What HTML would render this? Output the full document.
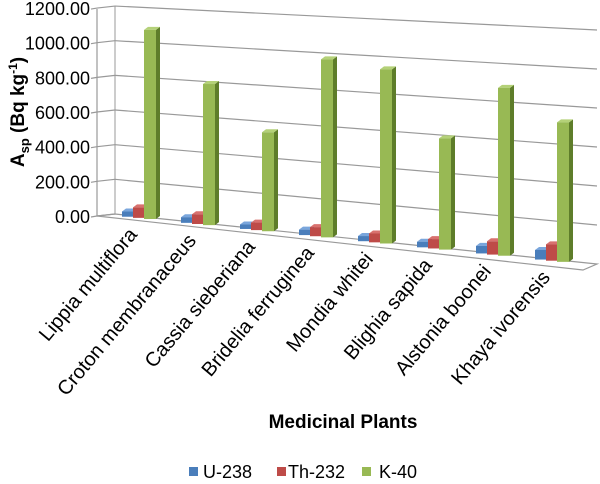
<!DOCTYPE html>
<html><head><meta charset="utf-8"><style>
body{margin:0;background:#fff}
svg{display:block;font-family:"Liberation Sans",Arial,sans-serif}
</style></head><body>
<svg id="chart" width="600" height="484" viewBox="0 0 600 484">
<g id="walls"></g>
<g id="grid"></g>
<g id="ylabels"></g>
<g id="bars"></g>
<g id="xlabels"></g>
<text x="0" y="0" transform="translate(24,112) rotate(-90)" text-anchor="middle" font-size="19" font-weight="bold">A<tspan font-size="13" dy="5">sp</tspan><tspan dy="-5"> (Bq kg</tspan><tspan font-size="12" dy="-7">-1</tspan><tspan dy="7">)</tspan></text>
<text x="343" y="428" text-anchor="middle" font-size="19" font-weight="bold">Medicinal Plants</text>
<g>
<rect x="189" y="467" width="9" height="9" fill="#4a7ebb"/>
<text x="203" y="478" font-size="18">U-238</text>
<rect x="277" y="467" width="9" height="9" fill="#be4b48"/>
<text x="288" y="478" font-size="18">Th-232</text>
<rect x="362" y="467" width="9" height="9" fill="#98b954"/>
<text x="379" y="478" font-size="18">K-40</text>
</g>
</svg>
<script>
const categories = ["Lippia multiflora","Croton membranaceus","Cassia sieberiana","Bridelia ferruginea","Mondia whitei","Blighia sapida","Alstonia boonei","Khaya ivorensis"];
const u238 = [30, 32, 25, 30, 28, 30, 40, 50];
const th232 = [60, 55, 42, 50, 48, 50, 70, 85];
const k40 = [1083, 796, 550, 975, 940, 592, 881, 722];
const yTicks = [0, 200, 400, 600, 800, 1000, 1200];
const yTickLabels = ["0.00","200.00","400.00","600.00","800.00","1000.00","1200.00"];

const NS = "http://www.w3.org/2000/svg";
function mk(tag, attrs, parent){const e=document.createElementNS(NS,tag);for(const k in attrs)e.setAttribute(k,attrs[k]);parent.appendChild(e);return e;}
function fx(x){return (x-115)/482;}
function yProj(x,v){const f=fx(x);return 214+f*50-v*(0.1733+f*0.0217);}

const walls=document.getElementById('walls');
const w1=mk('polygon',{points:"97,216 115,214 597,264 583,270",fill:"#fff",stroke:"#999","stroke-width":1.2},walls);


const w2=mk('line',{x1:97,y1:216,x2:97,y2:yProj(115,1200)+3,stroke:"#999","stroke-width":1.2},walls);


const w3=mk('line',{x1:115,y1:214,x2:115,y2:yProj(115,1200),stroke:"#999","stroke-width":1},walls);



const grid=document.getElementById('grid'), yl=document.getElementById('ylabels');
yTicks.forEach((v,i)=>{
  const yl0=yProj(115,v), yr=yProj(597,v);
  if(v>0){
    const g=mk('line',{x1:115,y1:yl0,x2:597,y2:yr,stroke:"#999","stroke-width":1.2},grid);
    
    
  }
  const s=mk('line',{x1:97,y1:yl0+2,x2:115,y2:yl0,stroke:"#999","stroke-width":1.2},grid);
  
  
  const t=mk('line',{x1:91,y1:yl0+3,x2:97,y2:yl0+2,stroke:"#999","stroke-width":1.2},grid);
  
  
  const tx=mk('text',{x:90,y:yl0+9,"text-anchor":"end","font-size":18},yl);
  tx.textContent=yTickLabels[i];
  
  
});

const bars=document.getElementById('bars');
const series=[{d:u238,f:"#4a7ebb",t:"#7aa6dc",s:"#2c5a92",off:-22,w:11,n:"u238"},
              {d:th232,f:"#be4b48",t:"#d8716e",s:"#8c2d2b",off:-11,w:11,n:"th232"},
              {d:k40,f:"#98b954",t:"#b4d178",s:"#5e7d2a",off:0,w:12,n:"k40"}];
const dx=4, dy=-3;
categories.forEach((c,i)=>{
  const gx=144+i*59;
  series.forEach(se=>{
    const x=gx+se.off, w=se.w, v=se.d[i];
    const yb=yProj(x,0)+2, yt=yProj(x,v)+2;
    const g=mk('g',{},bars);
    
    
    mk('polygon',{points:`${x+w},${yb} ${x+w+dx},${yb+dy} ${x+w+dx},${yt+dy} ${x+w},${yt}`,fill:se.s},g);
    mk('polygon',{points:`${x},${yt} ${x+dx},${yt+dy} ${x+w+dx},${yt+dy} ${x+w},${yt}`,fill:se.t},g);
    mk('rect',{x:x,y:yt,width:w,height:Math.max(0,yb-yt),fill:se.f},g);
  });
  const lx=gx-6, ly=yProj(gx,0)+18;
  const t=mk('text',{x:0,y:0,"text-anchor":"end","font-size":20,transform:`translate(${lx},${ly}) rotate(-50)`},document.getElementById('xlabels'));
  t.textContent=c;
  
  
});
</script>
</body></html>
